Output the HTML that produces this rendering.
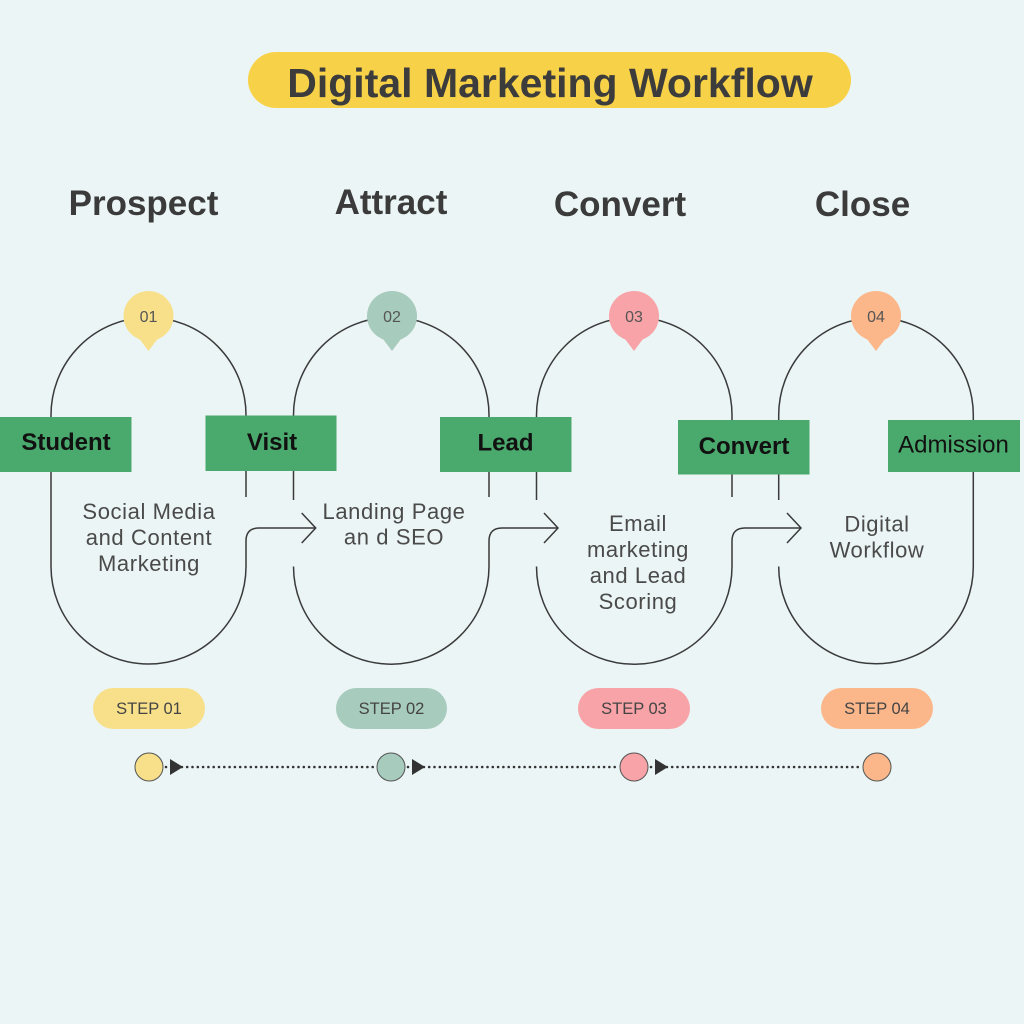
<!DOCTYPE html>
<html>
<head>
<meta charset="utf-8">
<style>
  html, body { margin:0; padding:0; background:#ebf5f5; }
  svg { display:block; }
  .hd { font-family:"Liberation Sans", sans-serif; font-weight:bold; font-size:35px; fill:#3b3b3b; }
  .lb { font-family:"Liberation Sans", sans-serif; font-weight:bold; font-size:24px; fill:#111; }
  .bd { font-family:"Liberation Sans", sans-serif; font-size:22px; fill:#4a4a4a; letter-spacing:0.6px; }
  .mk { font-family:"Liberation Sans", sans-serif; font-size:16px; fill:#555; }
  .st { font-family:"Liberation Sans", sans-serif; font-size:16.5px; fill:#444; }
</style>
</head>
<body>
<svg width="1024" height="1024" viewBox="0 0 1024 1024" xmlns="http://www.w3.org/2000/svg">
  <rect x="0" y="0" width="1024" height="1024" fill="#ebf5f5"/>

  <!-- Title -->
  <rect x="248" y="52" width="603" height="56" rx="28" ry="28" fill="#f7d147"/>
  <text x="550" y="97" text-anchor="middle" font-family="Liberation Sans, sans-serif" font-weight="bold" font-size="41" fill="#3c3c3c">Digital Marketing Workflow</text>

  <!-- Headings -->
  <text class="hd" x="143.5" y="215" text-anchor="middle">Prospect</text>
  <text class="hd" x="391" y="214" text-anchor="middle">Attract</text>
  <text class="hd" x="620" y="216" text-anchor="middle">Convert</text>
  <text class="hd" x="862.5" y="216" text-anchor="middle">Close</text>

  <!-- Loops -->
  <g fill="none" stroke="#3a3a3a" stroke-width="1.5">
    <path d="M51,415 A97.5,97.5 0 0 1 246,415 L246,497"/>
    <path d="M51,415 L51,566.5 A97.5,97.5 0 0 0 246,566.5 L246,541 Q246,528 259,528 L315.5,528"/>
    <path d="M301.7,513 L315.7,528 L301.7,543"/>
    <path d="M293.5,500 L293.5,415 A97.75,97.75 0 0 1 489,415 L489,497"/>
    <path d="M293.5,567 L293.5,566.5 A97.75,97.75 0 0 0 489,566.5 L489,541 Q489,528 502,528 L558,528"/>
    <path d="M544,513 L558,528 L544,543"/>
    <path d="M536.5,500 L536.5,415 A97.75,97.75 0 0 1 732,415 L732,497"/>
    <path d="M536.5,567 L536.5,566.5 A97.75,97.75 0 0 0 732,566.5 L732,541 Q732,528 745,528 L801,528"/>
    <path d="M787,513 L801,528 L787,543"/>
    <path d="M778.7,500 L778.7,415 A97.3,97.3 0 0 1 973.3,415 L973.3,566.5 A97.3,97.3 0 0 1 778.7,566.5 L778.7,567"/>
  </g>

  <!-- Markers -->
  <g>
    <circle cx="148.5" cy="316" r="25" fill="#f8e08b"/>
    <path d="M136.5,335 L160.5,335 L148.5,351 Z" fill="#f8e08b"/>
    <text class="mk" x="148.5" y="322" text-anchor="middle">01</text>

    <circle cx="392" cy="316" r="25" fill="#a7cbbd"/>
    <path d="M380,335 L404,335 L392,351 Z" fill="#a7cbbd"/>
    <text class="mk" x="392" y="322" text-anchor="middle">02</text>

    <circle cx="634" cy="316" r="25" fill="#f7a3a7"/>
    <path d="M622,335 L646,335 L634,351 Z" fill="#f7a3a7"/>
    <text class="mk" x="634" y="322" text-anchor="middle">03</text>

    <circle cx="876" cy="316" r="25" fill="#fbb78a"/>
    <path d="M864,335 L888,335 L876,351 Z" fill="#fbb78a"/>
    <text class="mk" x="876" y="322" text-anchor="middle">04</text>
  </g>

  <!-- Green labels -->
  <g fill="#4aa96c">
    <rect x="0" y="417" width="131.5" height="55"/>
    <rect x="205.5" y="415.5" width="131" height="55.5"/>
    <rect x="440" y="417" width="131.5" height="55"/>
    <rect x="678" y="420" width="131.5" height="54.5"/>
    <rect x="888" y="420" width="132" height="52"/>
  </g>
  <text class="lb" x="66" y="450" text-anchor="middle">Student</text>
  <text class="lb" x="272" y="450" text-anchor="middle">Visit</text>
  <text class="lb" x="505.5" y="450.5" text-anchor="middle">Lead</text>
  <text class="lb" x="744" y="454" text-anchor="middle">Convert</text>
  <text x="953.5" y="452.5" text-anchor="middle" font-family="Liberation Sans, sans-serif" font-size="24" fill="#111">Admission</text>

  <!-- Body text -->
  <text class="bd" text-anchor="middle"><tspan x="149" y="519">Social Media</tspan><tspan x="149" y="545">and Content</tspan><tspan x="149" y="571">Marketing</tspan></text>
  <text class="bd" text-anchor="middle"><tspan x="394" y="519">Landing Page</tspan><tspan x="394" y="544.5">an d SEO</tspan></text>
  <text class="bd" text-anchor="middle"><tspan x="638" y="531">Email</tspan><tspan x="638" y="557">marketing</tspan><tspan x="638" y="583">and Lead</tspan><tspan x="638" y="609">Scoring</tspan></text>
  <text class="bd" text-anchor="middle"><tspan x="877" y="531.5">Digital</tspan><tspan x="877" y="557.5">Workflow</tspan></text>

  <!-- Step pills -->
  <rect x="93" y="688" width="112" height="41" rx="20.5" fill="#f8e08b"/>
  <text class="st" x="149" y="714" text-anchor="middle">STEP 01</text>
  <rect x="336" y="688" width="111" height="41" rx="20.5" fill="#a7cbbd"/>
  <text class="st" x="391.5" y="714" text-anchor="middle">STEP 02</text>
  <rect x="578" y="688" width="112" height="41" rx="20.5" fill="#f7a3a7"/>
  <text class="st" x="634" y="714" text-anchor="middle">STEP 03</text>
  <rect x="821" y="688" width="112" height="41" rx="20.5" fill="#fbb78a"/>
  <text class="st" x="877" y="714" text-anchor="middle">STEP 04</text>

  <!-- Timeline -->
  <g stroke="#333" stroke-width="2.6" stroke-linecap="round" stroke-dasharray="0 5.3" fill="none">
    <line x1="166" y1="767" x2="376" y2="767"/>
    <line x1="408" y1="767" x2="619" y2="767"/>
    <line x1="651" y1="767" x2="861" y2="767"/>
  </g>
  <g fill="#333">
    <path d="M170,759 L183,767 L170,775 Z"/>
    <path d="M412,759 L425,767 L412,775 Z"/>
    <path d="M655,759 L668,767 L655,775 Z"/>
  </g>
  <g stroke="#555" stroke-width="1">
    <circle cx="149" cy="767" r="14" fill="#f8e08b"/>
    <circle cx="391" cy="767" r="14" fill="#a7cbbd"/>
    <circle cx="634" cy="767" r="14" fill="#f7a3a7"/>
    <circle cx="877" cy="767" r="14" fill="#fbb78a"/>
  </g>
</svg>
</body>
</html>
